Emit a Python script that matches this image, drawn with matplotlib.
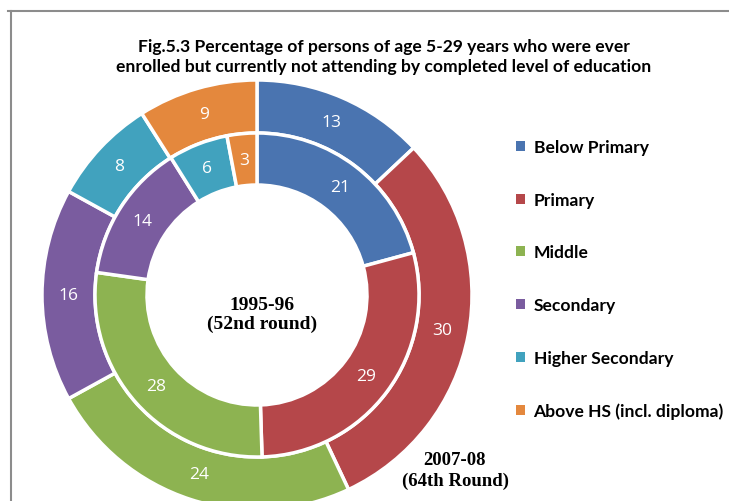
import matplotlib
matplotlib.use("Agg")
import matplotlib.pyplot as plt
from matplotlib.patches import Patch
from matplotlib.lines import Line2D

categories = ["Below Primary", "Primary", "Middle", "Secondary",
              "Higher Secondary", "Above HS (incl. diploma)"]
round_52_1995 = [21, 29, 28, 14, 6, 3]
round_64_2007 = [13, 30, 24, 16, 8, 9]
colors = ["#4A74B0", "#B5474A", "#8DB351", "#7A5C9F", "#41A2BE", "#E4883D"]
title = ("Fig.5.3 Percentage of persons of age 5-29 years who were ever\n"
         "enrolled but currently not attending by completed level of education")

W, H = 729, 502
fig = plt.figure(figsize=(W / 100, H / 100), dpi=100)
fig.patch.set_facecolor("white")

cx, cy, R = 257, 296, 215
ax = fig.add_axes([(cx - R) / W, (H - cy - R) / H, 2 * R / W, 2 * R / H])
ax.set_xlim(-1, 1)
ax.set_ylim(-1, 1)
ax.set_aspect("equal")
ax.axis("off")

r_out = 1.0
r_mid = 162 / R
r_in = 110 / R
wp = dict(edgecolor="white", linewidth=2.5)

ax.pie(round_64_2007, radius=r_out, colors=colors, startangle=90, counterclock=False,
       wedgeprops=dict(width=r_out - r_mid, **wp),
       labels=[str(v) for v in round_64_2007], labeldistance=(r_out + r_mid) / 2 / r_out,
       textprops=dict(color="white", fontsize=12.5, family="Open Sans", ha="center", va="center"))
ax.pie(round_52_1995, radius=r_mid, colors=colors, startangle=90, counterclock=False,
       wedgeprops=dict(width=r_mid - r_in, **wp),
       labels=[str(v) for v in round_52_1995], labeldistance=(r_mid + r_in) / 2 / r_mid,
       textprops=dict(color="white", fontsize=12.5, family="Open Sans", ha="center", va="center"))
ax.set_xlim(-1, 1)
ax.set_ylim(-1, 1)

fig.text(262 / W, 1 - 315 / H, "1995-96\n(52nd round)", ha="center", va="center",
         family="Liberation Serif", fontweight="bold", fontsize=14, linespacing=1.2)
fig.text(455 / W, 1 - 471 / H, "2007-08\n(64th Round)", ha="center", va="center",
         family="Liberation Serif", fontweight="bold", fontsize=13.5, linespacing=1.28)

fig.text(384 / W, 1 - 57 / H, title, ha="center", va="center", family="Lato",
         fontweight="bold", fontsize=12.6, linespacing=1.33)

handles = [Patch(facecolor=c, edgecolor="none") for c in colors]
fig.legend(handles, categories, loc="upper left", bbox_to_anchor=(509 / W, 1 - 133 / H),
           frameon=False, prop=dict(family="Lato", weight="bold", size=12.6),
           handlelength=0.5, handleheight=0.5, handletextpad=0.5, labelspacing=2.1,
           borderaxespad=0)

# frame lines (top and left)
fig.add_artist(Line2D([8 / W, 1], [1 - 11.5 / H, 1 - 11.5 / H], transform=fig.transFigure,
                      color="#8c8c8c", linewidth=1.5))
fig.add_artist(Line2D([10.5 / W, 10.5 / W], [0, 1 - 11.5 / H], transform=fig.transFigure,
                      color="#8c8c8c", linewidth=1.5))

fig.savefig("out.png", dpi=100, facecolor="white")
